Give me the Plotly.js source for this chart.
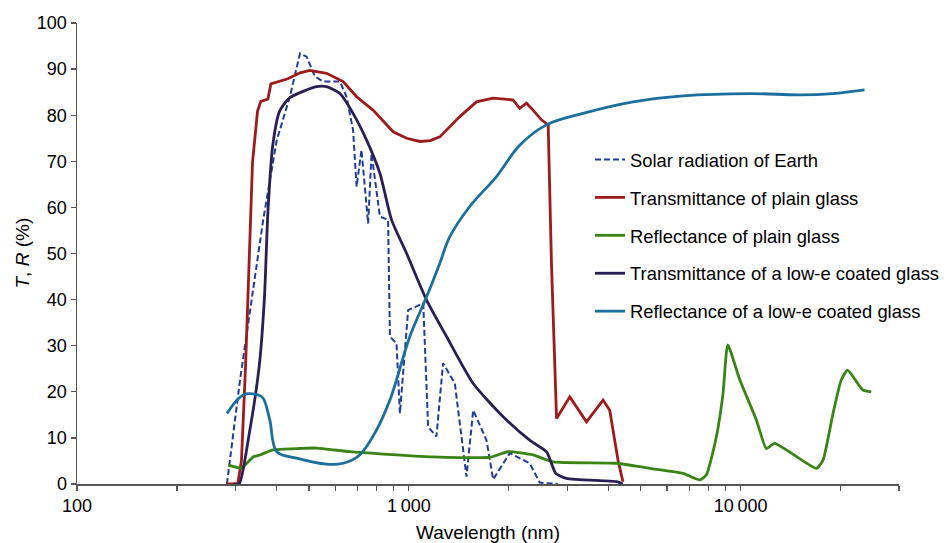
<!DOCTYPE html>
<html>
<head>
<meta charset="utf-8">
<script src="https://cdn.plot.ly/plotly-3.0.1.min.js"></script>
<style>html,body{margin:0;padding:0;background:#fff;}#chart{width:949px;height:543px;}</style>
</head>
<body>
<div id="chart"></div>
<script>
// Wavelengths in nm, values in %
const seriesNames = [
  "Solar radiation of Earth",
  "Transmittance of plain glass",
  "Reflectance of plain glass",
  "Transmittance of a low-e coated glass",
  "Reflectance of a low-e coated glass"
];

const solarWl  = [283,296,310,364,400,438,470,492,521,552,620,649,679,696,720,754,772,818,866,877,918,940,995,1105,1143,1211,1268,1376,1492,1563,1714,1795,2015,2313,2481,2812];
const solarVal = [0,11.7,22.6,57.3,74.6,84,93.4,92.7,88.4,87.3,87.3,84,76.8,64.5,72.5,56.5,71.7,58,57.3,32,30.5,15.3,37.7,39.2,12.4,10.3,26.2,21.8,1.6,16,9.5,1,6.7,4.5,0.3,0];

const tPlainWl  = [282,305,313,322,330,338,350,358,376,384,432,470,503,565,634,696,780,897,985,1080,1160,1240,1424,1599,1795,2061,2158,2262,2368,2510,2630,2690,2787,3056,3430,3849,4031,4124,4268,4418];
const tPlainVal = [0,0,5,25.5,47.7,69.8,80.9,83,83.5,86.8,87.9,89.2,89.7,89.1,87.3,84,81.1,76.4,75.0,74.3,74.5,75.3,79.7,82.9,83.7,83.3,81.5,82.6,81.1,79,77.9,48,14.2,18.9,13.5,18.2,16,11.7,5.2,0.5];

const rPlainWl  = [286,313,340,356,390,470,527,664,837,1184,1754,1991,2368,2720,4226,5325,6703,7530,7885,8452,8850,9143,9938,11150,11950,12650,13730,16910,17710,18980,20100,20990,23340,24750];
const rPlainVal = [4.1,3.5,5.9,6.3,7.4,7.7,7.8,7.0,6.5,5.9,5.8,7.0,6.3,4.8,4.5,3.4,2.3,0.9,2.0,10.3,19.7,30.2,22.6,13.9,7.7,8.8,7.4,3.4,5.2,15.3,22.6,24.7,20.4,20.0];

const tLowEWl  = [296,308,330,354,367,376,389,408,438,527,565,620,679,746,818,887,985,1131,1299,1563,1924,2313,2598,2690,2772,2986,4226,4413];
const tLowEVal = [0,0,10.7,25.5,40.2,58.8,73.5,80.9,83.8,86.2,86.2,84.7,80.4,74.6,67.4,57.3,50,39.9,32,21.8,14.6,9.5,7,4.5,2.3,1.2,0.5,0];

const rLowEWl  = [283,317,352,364,381,400,459,565,634,711,799,877,918,1007,1131,1240,1328,1526,1837,2158,2598,3350,4742,6703,10640,15050,18980,23620];
const rLowEVal = [15.3,19.3,19.3,18.6,13.9,7.0,5.6,4.3,4.5,6.3,11.7,18.2,22.6,32,40.6,47.9,53.6,60.2,66.7,73.5,77.9,80.4,82.9,84.2,84.7,84.4,84.7,85.5];

const xTickVals = [100,200,300,400,500,600,700,800,900,1000,2000,3000,4000,5000,6000,7000,8000,9000,10000,20000,30000];
const xTickText = ["100","","","","","","","","","1\u2009000","","","","","","","","","10\u2009000","",""];

const colors = ["#1f3c98","#9e1b1b","#3a8416","#2a1f55","#1c6e9e"];

function tr(i, x, y, dash, width, shape, smooth) {
  return {
    x: x, y: y, type: "scatter", mode: "lines", name: seriesNames[i],
    legendgroup: "g" + i,
    line: {color: colors[i], width: width, dash: dash, shape: shape, smoothing: smooth}
  };
}

const data = [
  tr(0, solarWl, solarVal, "6px,3px", 2, "linear", 0),
  tr(1, tPlainWl, tPlainVal, "solid", 2.8, "linear", 0),
  tr(2, rPlainWl, rPlainVal, "solid", 2.8, "spline", 0.5),
  tr(3, tLowEWl, tLowEVal, "solid", 2.8, "spline", 0.6),
  tr(4, rLowEWl, rLowEVal, "solid", 2.8, "spline", 1.0)
];

const fam = "Liberation Sans, Arial, sans-serif";
const W = 949, H = 543, L = 77, R = 0, T = 23, B = 59;
const plotRight = 899;
const paperW = W - L - R;

const layout = {
  width: W, height: H,
  margin: {l: L, r: R, t: T, b: B},
  paper_bgcolor: "#fff", plot_bgcolor: "#fff",
  font: {family: fam, color: "#000", size: 18},
  showlegend: true,
  legend: {
    x: (590 - L) / paperW, y: 0.744, xanchor: "left", yanchor: "top",
    traceorder: "grouped", tracegroupgap: 11,
    font: {family: fam, size: 18.4, color: "#000"},
    bgcolor: "rgba(0,0,0,0)"
  },
  xaxis: {
    type: "log", range: [2, Math.log10(30000)],
    domain: [0, (plotRight - L) / paperW],
    tickmode: "array", tickvals: xTickVals, ticktext: xTickText,
    ticks: "outside", ticklen: 5, tickwidth: 1.3, tickcolor: "#555",
    showline: true, linecolor: "#555", linewidth: 1.5,
    showgrid: false, zeroline: false,
    tickfont: {size: 18},
    title: {text: "Wavelength (nm)", font: {size: 19}, standoff: 12}
  },
  yaxis: {
    range: [0, 100], dtick: 10, tick0: 0,
    ticks: "outside", ticklen: 5, tickwidth: 1.3, tickcolor: "#555",
    showline: true, linecolor: "#555", linewidth: 1.5,
    showgrid: false, zeroline: false,
    tickfont: {size: 18}
  },
  annotations: [{
    text: "<i>T</i>, <i>R</i> (%)", xref: "paper", yref: "paper",
    x: (22 - L) / paperW, y: 0.5, xanchor: "center", yanchor: "middle",
    textangle: -90, showarrow: false, font: {size: 19, color: "#000"}
  }]
};

Plotly.newPlot("chart", data, layout, {staticPlot: true, displayModeBar: false});
</script>
</body>
</html>
